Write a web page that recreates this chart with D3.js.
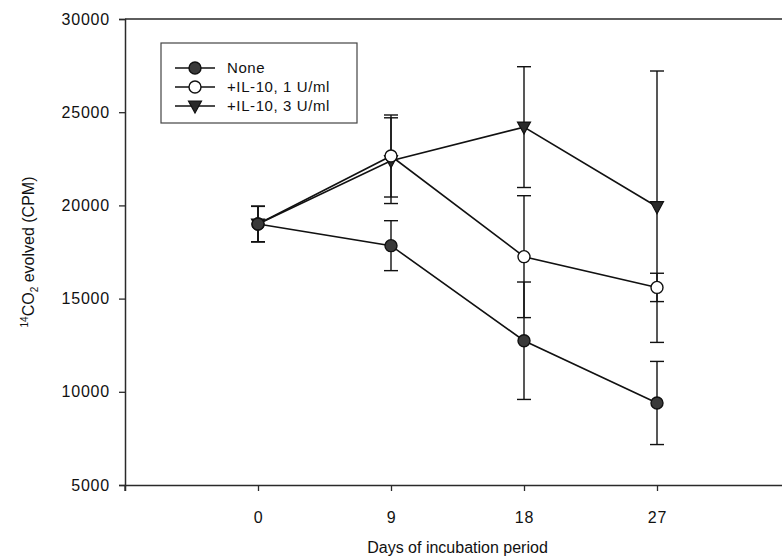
<!DOCTYPE html>
<html>
<head>
<meta charset="utf-8">
<script src="https://cdn.jsdelivr.net/npm/d3@7"></script>
<style>
  body { margin: 0; background: #fff; }
  svg text { font-family: "Liberation Sans", Arial, sans-serif; fill: #111; }
</style>
</head>
<body>
<svg id="chart" width="782" height="560"></svg>
<script>
// days of incubation
var days = [0, 9, 18, 27];
var xTicks = [0, 9, 18, 27];
var yTicks = [5000, 10000, 15000, 20000, 25000, 30000];

// series means and errors (CPM)
var noneMean = [19000, 17840, 12740, 9400];
var noneErr = [950, 1340, 3150, 2230];
var il1Mean = [19000, 22650, 17250, 15600];
var il1Err = [950, 2200, 3270, 760];
var il3Mean = [19000, 22400, 24200, 19930];
var il3Err = [950, 2300, 3240, 7280];

var seriesNames = ['None', '+IL-10, 1 U/ml', '+IL-10, 3 U/ml'];

var svg = d3.select('#chart');
var m = {left: 125, top: 19, right: 790, bottom: 485};

var x = d3.scaleLinear().domain([-9, 36]).range([m.left, m.right]);
var y = d3.scaleLinear().domain([5000, 30000]).range([m.bottom, m.top]);

var axisColor = '#2a2a2a';

// frame top / right
svg.append('path')
	.attr('d', 'M' + m.left + ',' + m.top + 'H' + m.right + 'V' + m.bottom)
	.attr('fill', 'none').attr('stroke', axisColor).attr('stroke-width', 1.3);

var yAxis = svg.append('g')
	.attr('transform', 'translate(' + m.left + ',0)')
	.call(d3.axisLeft(y).tickValues(yTicks).tickSize(6).tickPadding(9).tickFormat(d3.format('d')));
var xAxis = svg.append('g')
	.attr('transform', 'translate(0,' + m.bottom + ')')
	.call(d3.axisBottom(x).tickValues(xTicks).tickSize(6).tickPadding(21).tickFormat(d3.format('d')));

[yAxis, xAxis].forEach(function(a) {
	a.select('.domain').attr('stroke', axisColor).attr('stroke-width', 1.5);
	a.selectAll('.tick line').attr('stroke', axisColor).attr('stroke-width', 1.3);
	a.selectAll('text').attr('font-size', 16).attr('letter-spacing', 0.8).attr('fill', '#111')
		.attr('font-family', '"Liberation Sans", Arial, sans-serif');
});
// small overhang of y axis below the x axis
svg.append('line').attr('x1', m.left).attr('x2', m.left)
	.attr('y1', m.bottom).attr('y2', m.bottom + 6)
	.attr('stroke', axisColor).attr('stroke-width', 1.3);

// axis titles
svg.append('text')
	.attr('x', x(13.5)).attr('y', 553)
	.attr('text-anchor', 'middle').attr('font-size', 16)
	.text('Days of incubation period');

var yt = svg.append('text')
	.attr('transform', 'translate(34,' + ((m.top + m.bottom) / 2) + ') rotate(-90)')
	.attr('text-anchor', 'middle').attr('font-size', 16);
yt.append('tspan').attr('font-size', 10).attr('dy', -6).text('14');
yt.append('tspan').attr('dy', 6).text('CO');
yt.append('tspan').attr('font-size', 10).attr('dy', 4).text('2');
yt.append('tspan').attr('dy', -4).text(' evolved (CPM)');

var series = [
	{name: seriesNames[0], mean: noneMean, err: noneErr, shape: 'circle', fill: '#3a3a3a'},
	{name: seriesNames[1], mean: il1Mean, err: il1Err, shape: 'circle', fill: '#fff'},
	{name: seriesNames[2], mean: il3Mean, err: il3Err, shape: 'tri', fill: '#2a2a2a'}
];

function drawMarker(g, s, cx, cy) {
	if (s.shape === 'circle') {
		g.append('circle').attr('cx', cx).attr('cy', cy).attr('r', 6)
			.attr('fill', s.fill).attr('stroke', '#111').attr('stroke-width', 1.4);
	} else {
		g.append('path')
			.attr('d', 'M' + (cx - 6.5) + ',' + (cy - 5) + 'H' + (cx + 6.5) + 'L' + cx + ',' + (cy + 7) + 'Z')
			.attr('fill', s.fill).attr('stroke', '#111').attr('stroke-width', 1.2);
	}
}

var line = d3.line().x(function(d) { return x(d[0]); }).y(function(d) { return y(d[1]); });

// error bars
series.forEach(function(s) {
	var g = svg.append('g').attr('stroke', '#111').attr('stroke-width', 1.4);
	days.forEach(function(d, i) {
		var cx = x(d), lo = y(s.mean[i] - s.err[i]), hi = y(s.mean[i] + s.err[i]);
		g.append('line').attr('x1', cx).attr('x2', cx).attr('y1', lo).attr('y2', hi);
		g.append('line').attr('x1', cx - 7).attr('x2', cx + 7).attr('y1', lo).attr('y2', lo);
		g.append('line').attr('x1', cx - 7).attr('x2', cx + 7).attr('y1', hi).attr('y2', hi);
	});
});

// lines
series.forEach(function(s) {
	svg.append('path')
		.datum(days.map(function(d, i) { return [d, s.mean[i]]; }))
		.attr('d', line).attr('fill', 'none').attr('stroke', '#111').attr('stroke-width', 1.6);
});

// markers (None drawn last so it sits on top at day 0)
series.slice().reverse().forEach(function(s) {
	var g = svg.append('g');
	days.forEach(function(d, i) { drawMarker(g, s, x(d), y(s.mean[i])); });
});

// legend
var lg = svg.append('g');
lg.append('rect').attr('x', 161).attr('y', 43).attr('width', 196).attr('height', 80)
	.attr('fill', '#fff').attr('stroke', '#444').attr('stroke-width', 1.2);
series.forEach(function(s, i) {
	var ry = 68 + i * 19;
	lg.append('line').attr('x1', 175).attr('x2', 215).attr('y1', ry).attr('y2', ry)
		.attr('stroke', '#111').attr('stroke-width', 1.4);
	drawMarker(lg, s, 195, ry);
	lg.append('text').attr('x', 227).attr('y', ry + 5).attr('font-size', 15)
		.attr('letter-spacing', 0.6).text(s.name);
});
</script>
</body>
</html>
